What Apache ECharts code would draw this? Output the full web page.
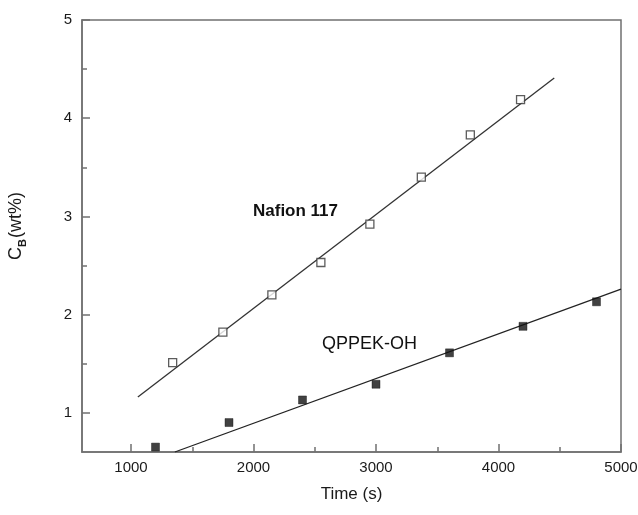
<!DOCTYPE html>
<html><head><meta charset="utf-8">
<script src="https://cdn.jsdelivr.net/npm/echarts@6/dist/echarts.min.js"></script>
<style>html,body{margin:0;padding:0;background:#fff}#c{width:638px;height:515px}</style>
</head><body><div id="c"></div>
<script>
const nafionT = [1340, 1750, 2150, 2550, 2950, 3370, 3770, 4180];
const nafionC = [1.51, 1.82, 2.20, 2.53, 2.92, 3.40, 3.83, 4.19];
const qppekT = [1200, 1800, 2400, 3000, 3600, 4200, 4800];
const qppekC = [0.65, 0.90, 1.13, 1.29, 1.61, 1.88, 2.13];
const nafionFitT = [1056, 4455];
const nafionFitC = [1.16, 4.41];
const qppekFitT = [1358, 5000];
const qppekFitC = [0.60, 2.26];
const xMajor = [1000, 2000, 3000, 4000, 5000];
const xMinor = [1500, 2500, 3500, 4500];
const yMajor = [1, 2, 3, 4, 5];
const yMinor = [1.5, 2.5, 3.5, 4.5];
const xRange = [600, 5000];
const yRange = [0.6, 5];

const zip = (a, b) => a.map((v, i) => [v, b[i]]);
const font = 'Liberation Sans, Arial, sans-serif';
const axisCol = '#707070';
const txtCol = '#1a1a1a';

const chart = echarts.init(document.getElementById('c'), null, {renderer: 'canvas'});
function mkX(vals, len, labels) {
  return {
    type: 'value', min: xRange[0], max: xRange[1], position: 'bottom',
    splitLine: {show: false},
    axisLine: {show: labels, lineStyle: {color: axisCol, width: 1.5}},
    axisTick: {show: true, inside: true, length: len, customValues: vals, lineStyle: {color: axisCol, width: 1.5}},
    axisLabel: {show: labels, customValues: vals, margin: 8, color: txtCol, fontFamily: font, fontSize: 15,
      formatter: v => String(v)},
    name: labels ? 'Time (s)' : '', nameLocation: 'middle', nameGap: 34,
    nameTextStyle: {color: txtCol, fontFamily: font, fontSize: 17}
  };
}
function mkY(vals, len, labels) {
  return {
    type: 'value', min: yRange[0], max: yRange[1], position: 'left',
    splitLine: {show: false},
    axisLine: {show: labels, lineStyle: {color: axisCol, width: 1.5}},
    axisTick: {show: true, inside: true, length: len, customValues: vals, lineStyle: {color: axisCol, width: 1.5}},
    axisLabel: {show: labels, customValues: vals, margin: 10, color: txtCol, fontFamily: font, fontSize: 15,
      formatter: v => String(v)}
  };
}
chart.setOption({
  animation: false,
  backgroundColor: '#fff',
  grid: {left: 82, right: 17, top: 20, bottom: 63, show: true, borderColor: axisCol, borderWidth: 1.5,
    backgroundColor: 'transparent', containLabel: false, outerBoundsMode: 'none'},
  xAxis: [mkX(xMajor, 8, true), mkX(xMinor, 5, false)],
  yAxis: [mkY(yMajor, 8, true), mkY(yMinor, 5, false)],
  graphic: [
    {type: 'text', left: 253, top: 203, style: {text: 'Nafion 117', fill: '#111', font: 'bold 17px ' + font}},
    {type: 'text', left: 322, top: 335, style: {text: 'QPPEK-OH', fill: '#111', font: '18px ' + font}},
    {type: 'text', x: 16, y: 226, rotation: Math.PI / 2,
     style: {text: '{a|C}{b|B}{a|(wt%)}', align: 'center', verticalAlign: 'middle', fill: txtCol,
       rich: {a: {fontSize: 18, fontFamily: font, fill: txtCol, lineHeight: 24, verticalAlign: 'middle'},
              b: {fontSize: 11, fontFamily: font, fontWeight: 'bold', fill: txtCol, lineHeight: 24, verticalAlign: 'bottom', padding: [0, 1, 0, 0]}}}}
  ],
  series: [
    {type: 'line', data: zip(nafionFitT, nafionFitC), symbol: 'none', lineStyle: {color: '#333', width: 1.3}, z: 2},
    {type: 'line', data: zip(qppekFitT, qppekFitC), symbol: 'none', lineStyle: {color: '#222', width: 1.3}, z: 2},
    {type: 'scatter', data: zip(nafionT, nafionC), symbol: 'rect', symbolSize: 8,
     itemStyle: {color: '#fff', borderColor: '#333', borderWidth: 1.3}, z: 3},
    {type: 'scatter', data: zip(qppekT, qppekC), symbol: 'rect', symbolSize: 8,
     itemStyle: {color: '#111', borderColor: '#111', borderWidth: 0.5}, z: 3}
  ]
});
</script></body></html>
